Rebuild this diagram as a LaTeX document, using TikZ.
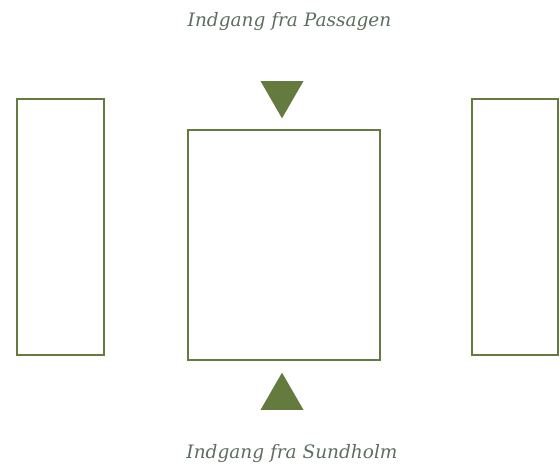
\documentclass[tikz,border=0pt]{standalone}
\usepackage{fontspec}
\setmainfont{DejaVu Serif}
\usetikzlibrary{shapes.geometric}
\definecolor{hallGreen}{RGB}{100,122,62}
\definecolor{signGrey}{RGB}{92,110,94}

\begin{document}
\begin{tikzpicture}[x=1pt,y=-1pt,
    stand/.style={rectangle, draw=hallGreen, line width=2.8pt, fill=white,
                  inner sep=0pt},
    arrowmark/.style={regular polygon, regular polygon sides=3, fill=hallGreen,
                      draw=none, inner sep=0pt, minimum size=49.6pt},
    gate/.style={font=\itshape\fontsize{18.5}{22}\selectfont, text=signGrey}
  ]
  \useasboundingbox (0,0) rectangle (560,468);
  \node[stand, minimum width=87pt,  minimum height=256pt] (left)   at (60.5,227) {};
  \node[stand, minimum width=192pt, minimum height=230pt] (hall)   at (284,245) {};
  \node[stand, minimum width=86pt,  minimum height=256pt] (right)  at (515,227) {};

  \node[arrowmark, shape border rotate=180] (inTop) at (282,93.5) {};
  \node[arrowmark] (inBottom) at (282,397.5) {};

  \node[gate] (passagen)  at (289.5,22)  {Indgang fra Passagen};
  \node[gate] (sundholm)  at (292,454) {Indgang fra Sundholm};
\end{tikzpicture}
\end{document}
